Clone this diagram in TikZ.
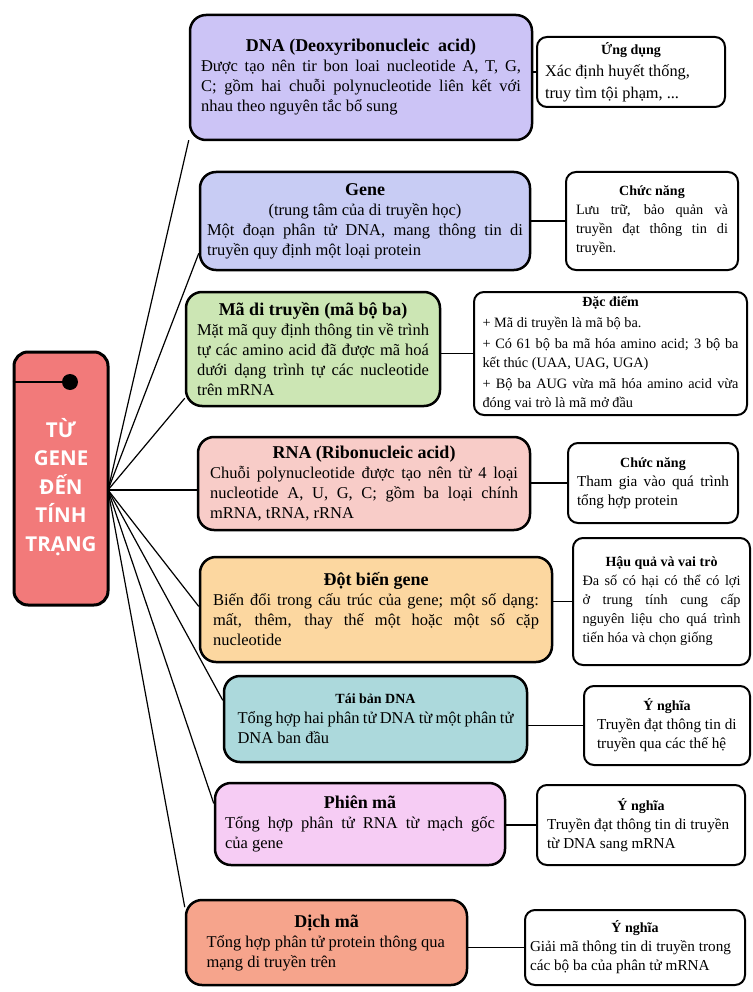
\documentclass[tikz,border=0pt]{standalone}
\usepackage{fontspec}
\setmainfont{Liberation Serif}
\newfontfamily\leftfont{Open Sans}
\usetikzlibrary{calc}
\definecolor{cLeft}{HTML}{F27A7A}
\definecolor{cDna}{HTML}{CCC4F6}
\definecolor{cGene}{HTML}{C8CCF4}
\definecolor{cCode}{HTML}{CCE6B4}
\definecolor{cRna}{HTML}{F8CCC8}
\definecolor{cMut}{HTML}{FCD7A0}
\definecolor{cRep}{HTML}{ACD9DC}
\definecolor{cTsc}{HTML}{F6CCF4}
\definecolor{cTsl}{HTML}{F6A48C}
\newcommand{\mbodyfs}{\fontsize{16.5}{20}\selectfont}
\newcommand{\mtitlefs}{\fontsize{18}{23}\selectfont\bfseries}
\newcommand{\rbodyfs}{\fontsize{15.2}{19}\selectfont}
\newcommand{\rsmallfs}{\fontsize{14.3}{19}\selectfont}
\newcommand{\rtitlefs}{\fontsize{14}{21}\selectfont\bfseries}
\hyphenpenalty=10000
\tolerance=9999
\tikzset{
  mainb/.style={draw=black, line width=2.5pt, rounded corners=16pt, inner sep=0pt},
  rightb/.style={draw=black, line width=2pt, rounded corners=10pt, fill=white, inner sep=0pt},
  fan/.style={draw=black, line width=1.2pt},
  link/.style={draw=black, line width=1.5pt},
}
\begin{document}
\begin{tikzpicture}
\begin{scope}[x=1pt,y=-1pt]
\fill[white] (0,0) rectangle (752,992);
\useasboundingbox (0,0) rectangle (752,992);

% left box
\node[draw=black, line width=3pt, rounded corners=14pt, fill=cLeft, minimum width=94pt, minimum height=253pt] (lbox) at (61,478.5) {};
\node[text=white, align=center, font=\leftfont\bfseries\fontsize{20.5}{28.5}\selectfont] (ltext) at (61,487) {TỪ\\GENE\\ĐẾN\\TÍNH\\TRẠNG};
\node[circle, fill=black, minimum size=16pt, inner sep=0pt] (dot) at (70,382) {};
\draw[line width=2.2pt] (dot -| lbox.west) -- (dot);
\coordinate (hub) at (108,490);

% main boxes
\node[mainb, fill=cDna, minimum width=342pt, minimum height=125pt] (dna) at (361,77.5) {\begin{minipage}{320pt}{\centering\mtitlefs DNA (Deoxyribonucleic\ \ acid)\par}\mbodyfs Được tạo nên tir bon loai nucleotide A, T, G,\linebreak C; gồm hai chuỗi polynucleotide liên kết với\linebreak nhau theo nguyên tắc bổ sung\end{minipage}};

\node[mainb, fill=cGene, minimum width=330pt, minimum height=98pt] (gene) at (365,221) {\begin{minipage}{316pt}{\centering\mtitlefs Gene\par}{\centering\mbodyfs (trung tâm của di truyền học)\par}\mbodyfs Một đoạn phân tử DNA, mang thông tin di\linebreak truyền quy định một loại protein\end{minipage}};

\node[mainb, fill=cCode, minimum width=254pt, minimum height=114pt] (code) at (313,349) {\begin{minipage}{232pt}{\centering\mtitlefs Mã di truyền (mã bộ ba)\par}\mbodyfs Mặt mã quy định thông tin về trình\linebreak tự các amino acid đã được mã hoá\linebreak dưới dạng trình tự các nucleotide\linebreak trên mRNA\end{minipage}};

\node[mainb, fill=cRna, minimum width=332pt, minimum height=93pt] (rna) at (364,483.5) {\begin{minipage}{308pt}{\centering\mtitlefs RNA (Ribonucleic acid)\par}\mbodyfs Chuỗi polynucleotide được tạo nên từ 4 loại\linebreak nucleotide A, U, G, C; gồm ba loại chính\linebreak mRNA, tRNA, rRNA\end{minipage}};

\node[mainb, fill=cMut, minimum width=352pt, minimum height=105pt] (mut) at (376,609.5) {\begin{minipage}{326pt}{\centering\mtitlefs Đột biến gene\par}\mbodyfs Biến đổi trong cấu trúc của gene; một số dạng:\linebreak mất, thêm, thay thế một hoặc một số cặp\linebreak nucleotide\end{minipage}};

\node[mainb, fill=cRep, minimum width=303pt, minimum height=86pt] (rep) at (375.5,719) {\begin{minipage}{276pt}{\centering\rtitlefs Tái bản DNA\par}\mbodyfs Tổng hợp hai phân tử DNA từ một phân tử\\DNA ban đầu\end{minipage}};

\node[mainb, fill=cTsc, minimum width=290pt, minimum height=82pt] (tsc) at (360,824) {\begin{minipage}{270pt}{\centering\mtitlefs Phiên mã\par}\mbodyfs Tổng hợp phân tử RNA từ mạch gốc\linebreak của gene\end{minipage}};

\node[mainb, fill=cTsl, minimum width=281pt, minimum height=85pt] (tsl) at (326.5,942.5) {\begin{minipage}{240pt}{\centering\mtitlefs Dịch mã\par}\mbodyfs\raggedright Tổng hợp phân tử protein thông qua\\mạng di truyền trên\end{minipage}};

% right boxes
\node[rightb, minimum width=188pt, minimum height=70pt] (rdna) at (631,72) {\begin{minipage}{172pt}{\centering\rtitlefs Ứng dụng\par}\fontsize{16.3}{22}\selectfont\raggedright Xác định huyết thống,\\truy tìm tội phạm, ...\end{minipage}};

\node[rightb, minimum width=172pt, minimum height=98pt] (rgene) at (652,221) {\begin{minipage}{152pt}{\centering\rtitlefs Chức năng\par}\rsmallfs Lưu trữ, bảo quản và\linebreak truyền đạt thông tin di\linebreak truyền.\end{minipage}};

\node[rightb, minimum width=273pt, minimum height=123pt] (rcode) at (610.5,353.5) {\begin{minipage}{256pt}\setlength{\parskip}{2pt}{\centering\rtitlefs Đặc điểm\par}\rsmallfs + Mã di truyền là mã bộ ba.\par + Có 61 bộ ba mã hóa amino acid; 3 bộ ba\linebreak kết thúc (UAA, UAG, UGA)\par + Bộ ba AUG vừa mã hóa amino acid vừa\linebreak đóng vai trò là mã mở đầu\end{minipage}};

\node[rightb, minimum width=170pt, minimum height=80pt] (rrna) at (653,483) {\begin{minipage}{152pt}{\centering\rtitlefs Chức năng\par}\rbodyfs Tham gia vào quá trình\linebreak tổng hợp protein\end{minipage}};

\node[rightb, minimum width=177pt, minimum height=127pt] (rmut) at (661.5,601.5) {\begin{minipage}{158pt}{\centering\rtitlefs Hậu quả và vai trò\par}\rsmallfs Đa số có hại có thể có lợi\linebreak ở trung tính cung cấp\linebreak nguyên liệu cho quá trình\linebreak tiến hóa và chọn giống\end{minipage}};

\node[rightb, minimum width=166pt, minimum height=79pt] (rrep) at (667,725.5) {\begin{minipage}{140pt}{\centering\rtitlefs Ý nghĩa\par}\rbodyfs\raggedright Truyền đạt thông tin di\\truyền qua các thế hệ\end{minipage}};

\node[rightb, minimum width=208pt, minimum height=80pt] (rtsc) at (641,825) {\begin{minipage}{188pt}{\centering\rtitlefs Ý nghĩa\par}\rbodyfs\raggedright Truyền đạt thông tin di truyền\\từ DNA sang mRNA\end{minipage}};

\node[rightb, minimum width=220pt, minimum height=75pt] (rtsl) at (635,947.5) {\begin{minipage}{210pt}{\centering\rtitlefs Ý nghĩa\par}\rbodyfs\raggedright Giải mã thông tin di truyền trong\\các bộ ba của phân tử mRNA\end{minipage}};

% fan connectors
\draw[fan] (hub) -- (dna.200);
\draw[fan] (hub) -- (gene.191);
\draw[fan] (hub) -- (code.201);
\draw[fan] (hub) -- (hub -| rna.west);
\draw[fan] (hub) -- (mut.179);
\draw[fan] (hub) -- (rep.173);
\draw[fan] (hub) -- (tsc.172);
\draw[fan] (hub) -- (tsl.166);

% right links
\draw[link] (rdna.west -| dna.east) -- (rdna.west);
\draw[link] (rgene.west -| gene.east) -- (rgene.west);
\draw[link] (rcode.west -| code.east) -- (rcode.west);
\draw[link] (rrna.west -| rna.east) -- (rrna.west);
\draw[link] (rmut.west -| mut.east) -- (rmut.west);
\draw[link] (rrep.west -| rep.east) -- (rrep.west);
\draw[link] (rtsc.west -| tsc.east) -- (rtsc.west);
\draw[link] (rtsl.west -| tsl.east) -- (rtsl.west);
\end{scope}
\end{tikzpicture}
\end{document}
